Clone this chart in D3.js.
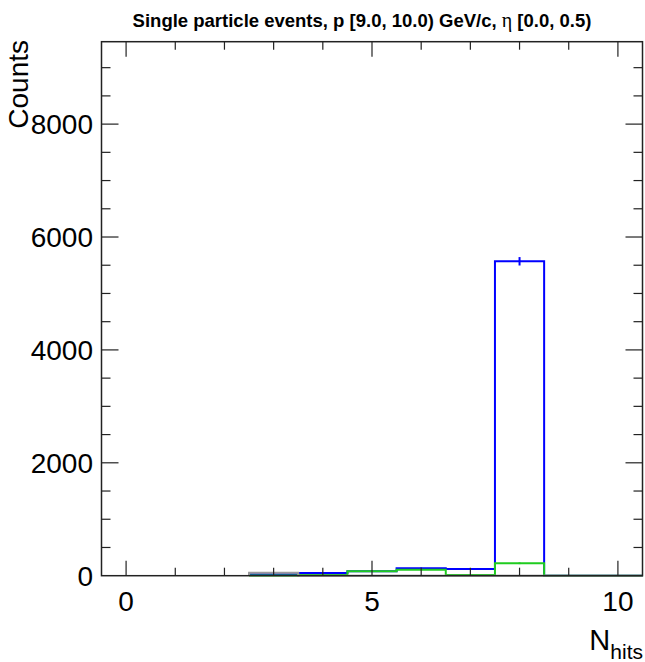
<!DOCTYPE html>
<html>
<head>
<meta charset="utf-8">
<script src="https://cdn.jsdelivr.net/npm/d3@7"></script>
<style>
  body { margin: 0; background: #fff; }
  text { font-family: "Liberation Sans", Arial, Helvetica, sans-serif; }
</style>
</head>
<body>
<div id="chart"></div>
<script>
// bins of N_hits (bin centres), counts per sample
const nhits = [3, 4, 5, 6, 7, 8, 9, 10]
const blueCounts = [25, 48, 80, 131, 119, 5570, 0, 0]
const greenCounts = [3, 12, 78, 106, 12, 220, 0, 0]
const grayCounts = [53, 0, 0, 0, 0, 0, 0, 0]

const xMajor = [0, 5, 10]
const yMajor = [0, 2000, 4000, 6000, 8000]

const width = 645
const height = 662
const frame = { left: 101.5, right: 642.5, top: 41.7, bottom: 575.7 }

const svg = d3.select("#chart")
    .append("svg")
    .attr("width", width)
    .attr("height", height)

const x = d3.scaleLinear()
    .domain([-0.5, 10.5])
    .range([frame.left, frame.right])

const y = d3.scaleLinear()
    .domain([0, 9460])
    .range([frame.bottom, frame.top])

// histogram outline as a step path, starting and ending on the baseline
function stepPath(counts) {
    let pts = [[x(nhits[0] - 0.5), y(0)]]
    counts.forEach(function (c, i) {
        pts.push([x(nhits[i] - 0.5), y(c)])
        pts.push([x(nhits[i] + 0.5), y(c)])
    })
    pts.push([x(nhits[nhits.length - 1] + 0.5), y(0)])
    return d3.line()(pts)
}

const series = [
    { counts: blueCounts, color: "#0000ff" },
    { counts: greenCounts, color: "#1fcc1f" },
    { counts: grayCounts, color: "#9a9a9a" }
]

series.forEach(function (s) {
    svg.append("path")
        .attr("d", stepPath(s.counts))
        .attr("fill", "none")
        .attr("stroke", s.color)
        .attr("stroke-width", 2)

    // sqrt(N) error bars at bin centres
    svg.append("g")
        .selectAll("line")
        .data(s.counts.map(function (c, i) { return { n: nhits[i], c: c } }).filter(d => d.c > 0))
        .enter()
        .append("line")
        .attr("x1", d => x(d.n))
        .attr("x2", d => x(d.n))
        .attr("y1", d => y(d.c - Math.sqrt(d.c)))
        .attr("y2", d => y(d.c + Math.sqrt(d.c)))
        .attr("stroke", s.color)
        .attr("stroke-width", 2)
})

// frame
const axisColor = "#222"
svg.append("rect")
    .attr("x", frame.left)
    .attr("y", frame.top)
    .attr("width", frame.right - frame.left)
    .attr("height", frame.bottom - frame.top)
    .attr("fill", "none")
    .attr("stroke", axisColor)
    .attr("stroke-width", 1.5)

// ticks on all four sides, pointing inward
const xMinor = d3.range(0, 11)
const yMinor = d3.range(0, 9460, 500)
const ticks = svg.append("g").attr("stroke", axisColor).attr("stroke-width", 1.2)

xMinor.forEach(function (v) {
    const len = xMajor.includes(v) ? 15 : 8
    ticks.append("line").attr("x1", x(v)).attr("x2", x(v))
        .attr("y1", frame.bottom).attr("y2", frame.bottom - len)
    ticks.append("line").attr("x1", x(v)).attr("x2", x(v))
        .attr("y1", frame.top).attr("y2", frame.top + len)
})
yMinor.forEach(function (v) {
    if (v === 0) return
    const len = yMajor.includes(v) ? 17 : 9
    ticks.append("line").attr("y1", y(v)).attr("y2", y(v))
        .attr("x1", frame.left).attr("x2", frame.left + len)
    ticks.append("line").attr("y1", y(v)).attr("y2", y(v))
        .attr("x1", frame.right).attr("x2", frame.right - len)
})

// tick labels
svg.append("g")
    .selectAll("text")
    .data(xMajor)
    .enter()
    .append("text")
    .attr("x", d => x(d))
    .attr("y", 611)
    .attr("text-anchor", "middle")
    .attr("font-size", 28)
    .attr("fill", "#000")
    .text(d => d)

svg.append("g")
    .selectAll("text")
    .data(yMajor)
    .enter()
    .append("text")
    .attr("x", 93)
    .attr("y", d => y(d) + 10)
    .attr("text-anchor", "end")
    .attr("font-size", 28)
    .attr("fill", "#000")
    .text(d => d)

// axis titles
const xTitle = svg.append("text")
    .attr("x", 643)
    .attr("y", 650)
    .attr("text-anchor", "end")
    .attr("font-size", 29)
xTitle.append("tspan").text("N")
xTitle.append("tspan").attr("font-size", 21).attr("dy", 9).text("hits")

svg.append("text")
    .attr("transform", "translate(28,40) rotate(-90)")
    .attr("text-anchor", "end")
    .attr("font-size", 28)
    .text("Counts")

// title
const title = svg.append("text")
    .attr("x", 362)
    .attr("y", 27)
    .attr("text-anchor", "middle")
    .attr("font-size", 18.5)
    .attr("font-weight", "bold")
title.append("tspan").text("Single particle events, p [9.0, 10.0) GeV/c, ")
title.append("tspan")
    .style("font-family", "'Liberation Serif', 'Times New Roman', serif")
    .attr("font-weight", "normal")
    .attr("font-size", 20)
    .text("η")
title.append("tspan").text(" [0.0, 0.5)")
</script>
</body>
</html>
